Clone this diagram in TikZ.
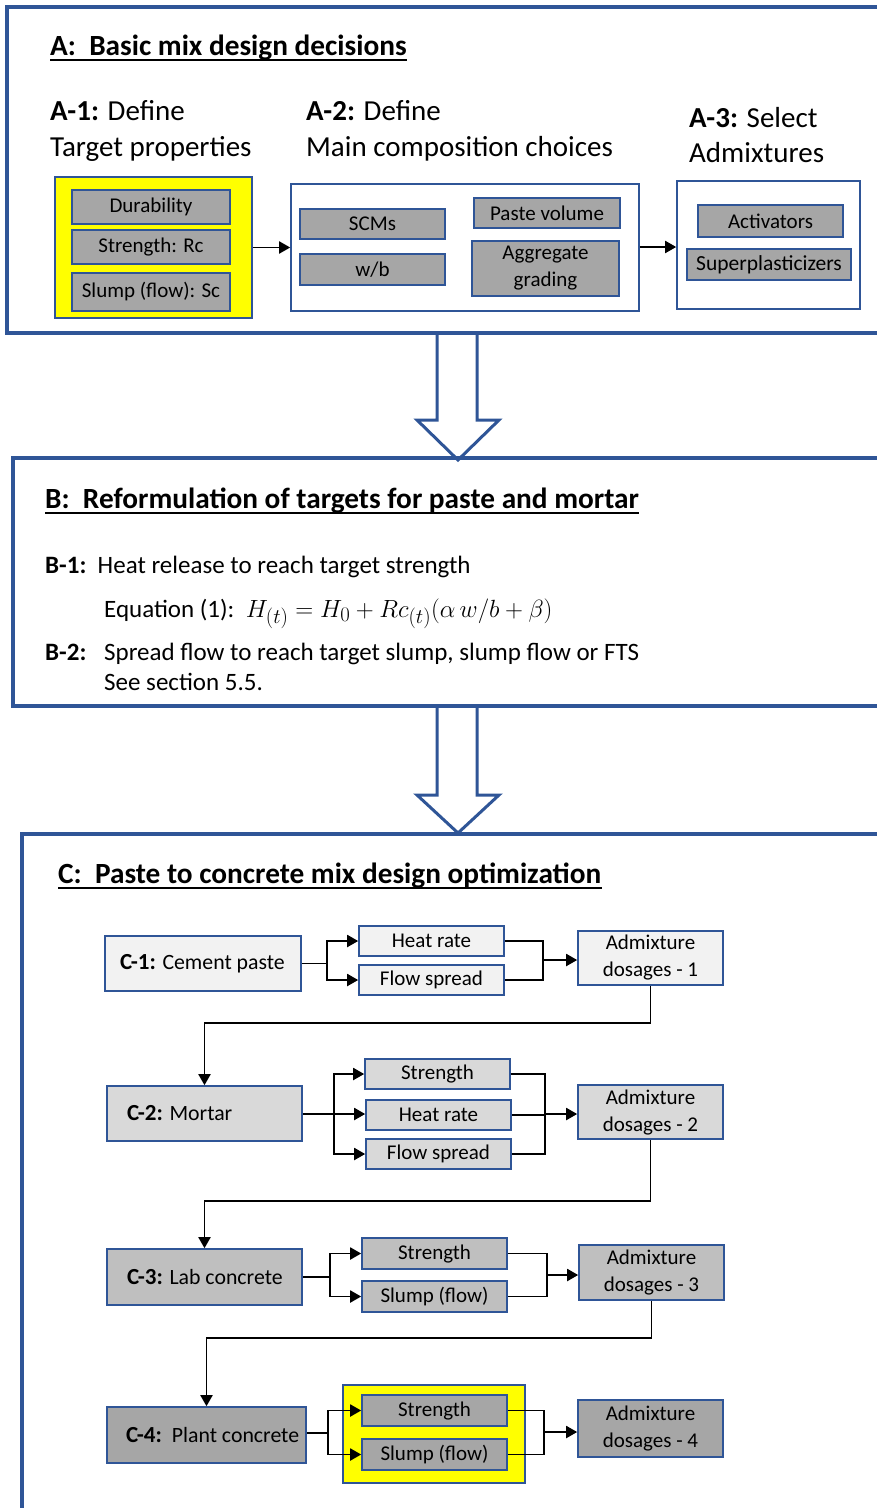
\documentclass[tikz,border=0pt]{standalone}
\usepackage{fontspec}
\setmainfont{Carlito}
\usetikzlibrary{arrows.meta,calc}
\definecolor{bblue}{HTML}{2F5597}
\definecolor{gA}{HTML}{F2F2F2}
\definecolor{gB}{HTML}{D9D9D9}
\definecolor{gC}{HTML}{BFBFBF}
\definecolor{gD}{HTML}{A6A6A6}
\definecolor{yel}{HTML}{FFFF00}
\newcommand\clabel[1]{{\fontsize{23}{26}\selectfont\bfseries #1}}
\tikzset{
  sect/.style={draw=bblue, line width=3.5pt},
  bigarrow/.style={draw=bblue, line width=3pt, line join=miter},
  box/.style={draw=bblue, line width=1.6pt, inner sep=0pt, align=center,
    font=\fontsize{21}{27}\selectfont},
  cbox/.style={box, font=\fontsize{21.8}{26}\selectfont},
  title/.style={inner sep=0pt, anchor=base west, font=\fontsize{29.3}{32}\selectfont\bfseries},
  lab/.style={inner sep=0pt, anchor=base west, font=\fontsize{29}{35}\selectfont},
  btxt/.style={inner sep=0pt, anchor=base west, font=\fontsize{25}{30}\selectfont},
  conn/.style={line width=1.9pt, black},
  arr/.style={conn, -{Triangle[length=11pt,width=12pt]}},
}
\begin{document}
\begin{tikzpicture}[x=1pt,y=-1pt]
\useasboundingbox (0,0) rectangle (877,1508);
\clip (0,0) rectangle (877,1508);
\fill[white] (0,0) rectangle (877,1508);

% ---------------- Section A
\draw[sect] (7,7) rectangle (900,333);
\node[title] (ta) at (50,55) {A:\ \ Basic mix design decisions};
\draw[line width=1.5pt] ($(ta.base west)+(0,5)$) -- ($(ta.base east)+(0,5)$);

\node[lab] (a1a) at (50,120) {\textbf{A-1:} Define};
\node[lab] (a1b) at (50,156) {Target properties};
\node[lab] (a2a) at (306,120) {\textbf{A-2:} Define};
\node[lab] (a2b) at (306,156) {Main composition choices};
\node[lab] (a3a) at (689,127) {\textbf{A-3:} Select};
\node[lab] (a3b) at (689,162) {Admixtures};

\node[box, fill=yel, minimum width=197, minimum height=141] (ya) at (153.5,247.5) {};
\node[box, fill=gD, minimum width=158, minimum height=34] (dur) at (151,207) {Durability};
\node[box, fill=gD, minimum width=158, minimum height=34] (str) at (151,247) {Strength: Rc};
\node[box, fill=gD, minimum width=158, minimum height=38] (slu) at (151,292) {Slump (flow): Sc};

\node[box, minimum width=348, minimum height=127] (a2) at (465,247.5) {};
\node[box, fill=gD, minimum width=145, minimum height=30] (scm) at (372.5,224) {SCMs};
\node[box, fill=gD, minimum width=145, minimum height=31] (wb) at (372.5,269.5) {w/b};
\node[box, fill=gD, minimum width=146, minimum height=30] (pv) at (547,213) {Paste volume};
\node[box, fill=gD, minimum width=147, minimum height=55] (ag) at (545.5,268.5) {Aggregate\\grading};

\node[box, minimum width=183, minimum height=128] (a3) at (768.5,245) {};
\node[box, fill=gD, minimum width=145, minimum height=32] (act) at (770.5,221) {Activators};
\node[box, fill=gD, minimum width=164, minimum height=31, font=\fontsize{21.5}{27}\selectfont] (sp) at (769,264.5) {Superplasticizers};

\draw[arr] (ya.east) -- (a2.west);
\draw[arr] (a2.east |- 0,247) -- (a3.west |- 0,247);

% big arrow A -> B
\fill[white] (437,336) -- (437,420) -- (417,420) -- (458,460) -- (499,420) -- (477,420) -- (477,336) -- cycle;
\draw[bigarrow] (437,335) -- (437,420) -- (417,420) -- (458,460) -- (499,420) -- (477,420) -- (477,335);

% ---------------- Section B
\draw[sect] (13,458) rectangle (900,706);
\node[title] (tb) at (45,508) {B:\ \ Reformulation of targets for paste and mortar};
\draw[line width=1.5pt] ($(tb.base west)+(0,5)$) -- ($(tb.base east)+(0,5)$);
\node[btxt] (b1) at (45,573) {\textbf{B-1:}\ \ Heat release to reach target strength};
\node[btxt] (eq) at (104,617) {Equation (1):\ \ {\fontsize{29}{32}\selectfont$H_{(t)} = H_0 + Rc_{(t)}(\alpha\, w/b + \beta)$}};
\node[btxt] (b2) at (45,660) {\textbf{B-2:}};
\node[btxt] (b2t) at (104,660) {Spread flow to reach target slump, slump flow or FTS};
\node[btxt] (b3t) at (104,690) {See section 5.5.};

% big arrow B -> C
\fill[white] (437,708) -- (437,795) -- (417,795) -- (458,833) -- (499,795) -- (477,795) -- (477,708) -- cycle;
\draw[bigarrow] (437,706) -- (437,795) -- (417,795) -- (458,833) -- (499,795) -- (477,795) -- (477,706);

% ---------------- Section C
\draw[sect] (22,834) rectangle (900,1540);
\node[title] (tc) at (58,883) {C:\ \ Paste to concrete mix design optimization};
\draw[line width=1.5pt] ($(tc.base west)+(0,5)$) -- ($(tc.base east)+(0,5)$);

% row 1
\node[cbox, fill=gA, minimum width=196, minimum height=55] (c1) at (203,963.5) {\makebox[166pt][l]{\clabel{C-1:} Cement paste}};
\node[box, fill=gA, minimum width=145, minimum height=30] (hr1) at (431.5,941) {Heat rate};
\node[box, fill=gA, minimum width=145, minimum height=30] (fs1) at (431.5,980) {Flow spread};
\node[box, fill=gA, minimum width=145, minimum height=54] (ad1) at (650.5,958) {Admixture\\dosages - 1};
\coordinate (s1) at (327,963.5);
\coordinate (m1) at (543,960);
\draw[conn] (c1.east) -- (s1);
\draw[arr] (s1) |- (hr1.west);
\draw[arr] (s1) |- (fs1.west);
\draw[conn] (hr1.east) -| (m1) |- (fs1.east);
\draw[arr] (m1) -- (m1 -| ad1.west);

% row 2
\node[cbox, fill=gB, minimum width=195, minimum height=55] (c2) at (204.5,1113.5) {\makebox[155pt][l]{\clabel{C-2:} Mortar}};
\node[box, fill=gB, minimum width=145, minimum height=30] (st2) at (437.5,1074) {Strength};
\node[box, fill=gB, minimum width=145, minimum height=30] (hr2) at (438.5,1115) {Heat rate};
\node[box, fill=gB, minimum width=145, minimum height=30] (fs2) at (438.5,1154) {Flow spread};
\node[box, fill=gB, minimum width=145, minimum height=54] (ad2) at (650.5,1112) {Admixture\\dosages - 2};
\coordinate (s2) at (334,1114);
\coordinate (m2) at (545,1114);
\draw[arr] (ad1.south) -- ++(0,37) -| (c2.north);
\draw[conn] (c2.east |- s2) -- (s2);
\draw[arr] (s2) |- (st2.west);
\draw[arr] (s2) -- (s2 -| hr2.west);
\draw[arr] (s2) |- (fs2.west);
\draw[conn] (st2.east) -| (m2) |- (fs2.east);
\draw[conn] (hr2.east) -- (hr2.east -| m2);
\draw[arr] (m2) -- (m2 -| ad2.west);

% row 3
\node[cbox, fill=gC, minimum width=195, minimum height=56] (c3) at (204.5,1277) {\makebox[155pt][l]{\clabel{C-3:} Lab concrete}};
\node[box, fill=gC, minimum width=145, minimum height=31] (st3) at (434.5,1253.5) {Strength};
\node[box, fill=gC, minimum width=145, minimum height=31] (sl3) at (434.5,1296.5) {Slump (flow)};
\node[box, fill=gC, minimum width=145, minimum height=55] (ad3) at (651.5,1272.5) {Admixture\\dosages - 3};
\coordinate (s3) at (330,1277);
\coordinate (m3) at (547,1275);
\draw[arr] (ad2.south) -- ++(0,61) -| (c3.north);
\draw[conn] (c3.east) -- (s3);
\draw[arr] (s3) |- (st3.west);
\draw[arr] (s3) |- (sl3.west);
\draw[conn] (st3.east) -| (m3) |- (sl3.east);
\draw[arr] (m3) -- (m3 -| ad3.west);

% row 4
\node[box, fill=yel, minimum width=182, minimum height=98] (y4) at (434,1434) {};
\node[cbox, fill=gD, minimum width=199, minimum height=56] (c4) at (206.5,1435) {\makebox[161pt][l]{\clabel{C-4:}\ \ Plant concrete}};
\node[box, fill=gD, minimum width=145, minimum height=31] (st4) at (434.5,1410.5) {Strength};
\node[box, fill=gD, minimum width=145, minimum height=31] (sl4) at (434.5,1454.5) {Slump (flow)};
\node[box, fill=gD, minimum width=145, minimum height=57] (ad4) at (650.5,1428.5) {Admixture\\dosages - 4};
\coordinate (s4) at (328,1433);
\coordinate (m4) at (544,1432);
\draw[arr] (ad3.south) -- ++(0,37) -| (c4.north);
\draw[conn] (c4.east |- s4) -- (s4);
\draw[arr] (s4) |- (st4.west);
\draw[arr] (s4) |- (sl4.west);
\draw[conn] (st4.east) -| (m4) |- (sl4.east);
\draw[arr] (m4) -- (m4 -| ad4.west);
\end{tikzpicture}
\end{document}
